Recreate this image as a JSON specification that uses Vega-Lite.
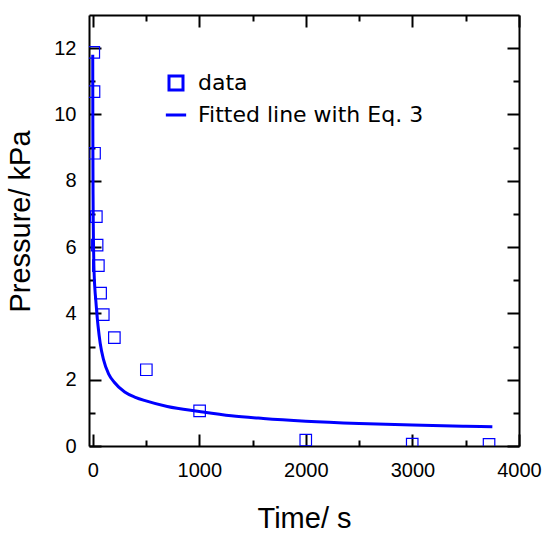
{
  "$schema": "https://vega.github.io/schema/vega-lite/v6.json",
  "autosize": "none",
  "width": 430,
  "height": 431,
  "padding": {"left": 89, "top": 15, "right": 25, "bottom": 87},
  "background": "white",
  "config": {
    "view": {"stroke": null},
    "axis": {
      "grid": false,
      "labelFlush": false,
      "labelOverlap": false,
      "domainColor": "black",
      "domainWidth": 2,
      "tickColor": "black",
      "tickWidth": 2,
      "labelFont": "Liberation Sans",
      "labelFontSize": 20,
      "labelColor": "black",
      "titleFont": "Liberation Sans",
      "titleFontSize": 29,
      "titleFontWeight": "normal",
      "titleColor": "black",
      "zindex": 1
    }
  },
  "datasets": {
    "pts": [
      {"t": 10, "P": 11.87, "series": "data"},
      {"t": 12, "P": 10.69, "series": "data"},
      {"t": 17, "P": 8.83, "series": "data"},
      {"t": 34, "P": 6.92, "series": "data"},
      {"t": 41, "P": 6.06, "series": "data"},
      {"t": 53, "P": 5.44, "series": "data"},
      {"t": 74, "P": 4.61, "series": "data"},
      {"t": 99, "P": 3.96, "series": "data"},
      {"t": 203, "P": 3.27, "series": "data"},
      {"t": 503, "P": 2.3, "series": "data"},
      {"t": 1003, "P": 1.06, "series": "data"},
      {"t": 1999, "P": 0.175, "series": "data"},
      {"t": 2998, "P": 0.055, "series": "data"},
      {"t": 3719, "P": 0.05, "series": "data"}
    ],
    "fit": [
      {"t": 0, "P": 11.8},
      {"t": 1, "P": 9.6},
      {"t": 2, "P": 8.4},
      {"t": 3, "P": 7.6},
      {"t": 5, "P": 6.7},
      {"t": 7, "P": 6.15},
      {"t": 10, "P": 5.55},
      {"t": 15, "P": 5.05},
      {"t": 20, "P": 4.75},
      {"t": 30, "P": 4.35},
      {"t": 40, "P": 3.95},
      {"t": 50, "P": 3.62},
      {"t": 70, "P": 3.1},
      {"t": 100, "P": 2.62},
      {"t": 150, "P": 2.17},
      {"t": 200, "P": 1.93},
      {"t": 300, "P": 1.63},
      {"t": 400, "P": 1.47},
      {"t": 500, "P": 1.36},
      {"t": 700, "P": 1.19},
      {"t": 1000, "P": 1.04},
      {"t": 1300, "P": 0.91},
      {"t": 1600, "P": 0.83},
      {"t": 2000, "P": 0.75},
      {"t": 2500, "P": 0.68},
      {"t": 3000, "P": 0.63},
      {"t": 3500, "P": 0.595},
      {"t": 3750, "P": 0.58}
    ]
  },
  "resolve": {"axis": {"x": "independent", "y": "independent"}},
  "layer": [
    {
      "data": {"name": "fit"},
      "mark": {"type": "line", "color": "#0000ff", "strokeWidth": 3, "clip": true, "interpolate": "monotone"},
      "encoding": {
        "x": {
          "field": "t", "type": "quantitative",
          "scale": {"domain": [-35, 4000], "nice": false, "zero": false},
          "axis": {"orient": "bottom", "values": [0, 1000, 2000, 3000, 4000], "format": "d", "tickSize": -12, "labelPadding": 26, "title": "Time/ s", "titlePadding": 24}
        },
        "y": {
          "field": "P", "type": "quantitative",
          "scale": {"domain": [0, 13], "nice": false, "zero": false},
          "axis": {"orient": "left", "values": [0, 2, 4, 6, 8, 10, 12], "format": "d", "tickSize": -12, "labelPadding": 25, "title": "Pressure/ kPa", "titlePadding": 18, "titleY": 206}
        }
      }
    },
    {
      "data": {"name": "pts"},
      "mark": {"type": "point", "filled": false, "color": "#0000ff", "size": 132, "strokeWidth": 1.2, "opacity": 1, "clip": true},
      "encoding": {
        "x": {
          "field": "t", "type": "quantitative",
          "axis": {"orient": "bottom", "values": [500, 1500, 2500, 3500], "tickSize": -6, "labels": false, "domain": false, "title": null}
        },
        "y": {
          "field": "P", "type": "quantitative",
          "axis": {"orient": "left", "values": [1, 3, 5, 7, 9, 11], "tickSize": -6, "labels": false, "domain": false, "title": null}
        },
        "shape": {
          "field": "series", "type": "nominal",
          "scale": {"domain": ["data", "Fitted line with Eq. 3"], "range": ["square", "M-1.45,0H1.45"]},
          "legend": {
            "title": null,
            "orient": "none",
            "legendX": 76,
            "legendY": 57,
            "symbolSize": 196,
            "symbolStrokeWidth": 3,
            "symbolStrokeColor": "#0000ff",
            "symbolFillColor": "transparent",
            "symbolOpacity": 1,
            "labelFont": "DejaVu Sans",
            "labelFontSize": 22,
            "labelColor": "black",
            "labelOffset": 11,
            "rowPadding": 8,
            "labelLimit": 400
          }
        }
      }
    },
    {
      "data": {"name": "pts"},
      "mark": {"type": "point", "opacity": 0},
      "encoding": {
        "x": {
          "field": "t", "type": "quantitative",
          "axis": {"orient": "top", "values": [0, 1000, 2000, 3000, 4000], "tickSize": -12, "labels": false, "title": null}
        },
        "y": {
          "field": "P", "type": "quantitative",
          "axis": {"orient": "right", "values": [0, 2, 4, 6, 8, 10, 12], "tickSize": -12, "labels": false, "title": null}
        }
      }
    },
    {
      "data": {"name": "pts"},
      "mark": {"type": "point", "opacity": 0},
      "encoding": {
        "x": {
          "field": "t", "type": "quantitative",
          "axis": {"orient": "top", "values": [500, 1500, 2500, 3500], "tickSize": -6, "labels": false, "domain": false, "title": null}
        },
        "y": {
          "field": "P", "type": "quantitative",
          "axis": {"orient": "right", "values": [1, 3, 5, 7, 9, 11], "tickSize": -6, "labels": false, "domain": false, "title": null}
        }
      }
    }
  ]
}
